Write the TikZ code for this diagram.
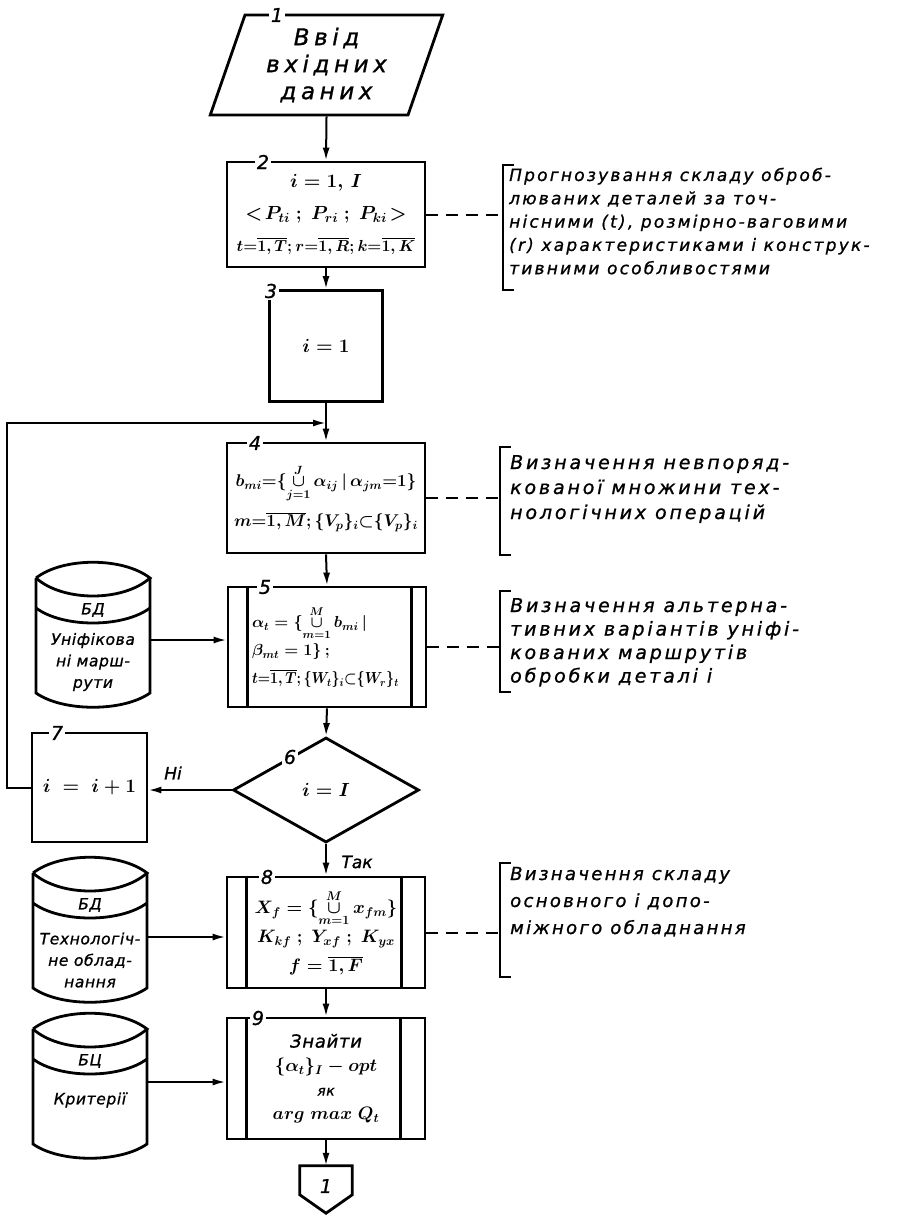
\RequirePackage{fix-cm}
\documentclass[tikz,border=0pt]{standalone}
\usepackage{amsmath}
\usepackage{graphicx}
\usepackage{fontspec}
\newfontfamily\drfN[FakeBold=1]{DejaVu Sans}
\newfontfamily\drfT[LetterSpace=20,FakeBold=1]{DejaVu Sans}
\newfontfamily\drfA[LetterSpace=13,FakeBold=1]{DejaVu Sans}
\newfontfamily\drfB[LetterSpace=15,FakeBold=1]{DejaVu Sans}
\newfontfamily\drfD[LetterSpace=4,FakeBold=1]{DejaVu Sans}
\usetikzlibrary{shapes.geometric,arrows.meta,calc}

% fonts used in the chart
\newcommand\mathsz{\fontsize{19}{32}\selectfont\boldmath}
\newcommand\numfont{\drfN\itshape\fontsize{19}{19}\selectfont}
\newcommand\titlefont{\drfT\itshape\fontsize{23}{27}\selectfont}
\newcommand\annAfont{\drfA\itshape\fontsize{17}{17}\selectfont}
\newcommand\annCfont{\drfA\itshape\fontsize{18}{18}\selectfont}
\newcommand\annBfont{\drfB\itshape\fontsize{19}{19}\selectfont}
\newcommand\dbfont{\drfD\itshape\fontsize{15.5}{21.5}\selectfont}
\newcommand\un{\mathop{\cup}\limits}

% database drum: name, x, y of top, header, body offset, arrow offset, body
\newcommand\drum[7]{%
  \begin{scope}[shift={(#2,#3)}]
    \draw[ol] (-57,16) .. controls (-30,-5) and (30,-5) .. (57,16)
                       .. controls (30,40) and (-30,40) .. (-57,16);
    \draw[ol] (-57,16) -- (-57,131) .. controls (-30,150) and (30,150) .. (57,131) -- (57,16);
    \draw[ol] (-57,46) .. controls (-30,66) and (30,66) .. (57,46);
    \node[dbtext] (#1h) at (0,48) {#4};
    \node[dbtext, align=center] (#1) at (0,#5) {#7};
    \coordinate (#1o) at (57,#6);
  \end{scope}}

% comment bracket: name, x, top, bottom, y of the link
\newcommand\brk[5]{%
  \draw[ol] (#2+11,#3) -- (#2,#3) -- (#2,#4) -- (#2+11,#4);
  \coordinate (#1) at (#2,#5);}

% vertical bars of a predefined-process box
\newcommand\sidebars[3]{%
  \draw[ol] ([xshift=#2]#1.north west) -- ([xshift=#2]#1.south west);
  \draw[ol] ([xshift=-#3]#1.north east) -- ([xshift=-#3]#1.south east);}

\begin{document}
\begin{tikzpicture}[x=1pt,y=-1pt,
  ol/.style={line width=2.8pt},
  box/.style={draw, line width=2.8pt, inner sep=1pt, align=center, font=\mathsz},
  arr/.style={line width=2pt, -{Latex[length=13pt,width=7pt]}},
  dsh/.style={line width=2pt, dash pattern=on 12pt off 8pt},
  num/.style={fill=white, inner sep=1.5pt, font=\numfont},
  lbl/.style={inner sep=1pt, font=\drfN\itshape\fontsize{17}{17}\selectfont},
  annA/.style={inner sep=0pt, anchor=base west, font=\annAfont},
  annB/.style={inner sep=0pt, anchor=base west, font=\annBfont},
  annC/.style={inner sep=0pt, anchor=base west, font=\annCfont},
  dbtext/.style={inner sep=0pt, font=\dbfont}]

\fill[white] (0,0) rectangle (903,1217);
\useasboundingbox (0,0) rectangle (903,1217);

% ---- main column ----
\node[draw, trapezium, trapezium left angle=71, trapezium right angle=109,
      trapezium stretches=true, minimum width=233pt, minimum height=100pt,
      line width=2.8pt, align=center, inner sep=0pt, font=\titlefont] (b1) at (326.5,65)
      {Ввід\\вхідних\\даних};

\node[box, minimum width=198pt, minimum height=105pt] (b2) at (326,214.5)
  {$i=1,\,I$\\ $<\!P_{ti}\ ;\ P_{ri}\ ;\ P_{ki}\!>$\\
   {\fontsize{16}{16}\selectfont$t{=}\overline{1,T};r{=}\overline{1,R};k{=}\overline{1,K}$}};

\node[box, minimum width=113pt, minimum height=111pt] (b3) at (326,346) {$i=1$};

\node[box, minimum width=198pt, minimum height=110pt, font=\fontsize{17}{40}\selectfont\boldmath] (b4) at (326,498)
  {$b_{mi}{=}\{\un_{j=1}^{J}\alpha_{ij}\,|\,\alpha_{jm}{=}1\}$\\
   $m{=}\overline{1,M};\{V_p\}_i{\subset}\{V_p\}_i$};

\node[box, minimum width=198pt, minimum height=120pt, align=left, text width=150pt,
      font=\fontsize{16}{28}\selectfont\boldmath] (b5) at (327,647)
  {$\alpha_t=\{\un_{m=1}^{M}b_{mi}\,|$\\
   $\beta_{mt}=1\}\,;$\\
   \scalebox{0.88}[1]{$t{=}\overline{1,T};\{W_t\}_i{\subset}\{W_r\}_t$}};
\sidebars{b5}{21pt}{16pt}

\node[draw, diamond, aspect=2, line width=2.8pt, minimum width=186pt, minimum height=105pt,
      inner sep=0pt, font=\mathsz] (b6) at (326,790) {$i=I$};

\node[box, minimum width=115pt, minimum height=109pt] (b7) at (89.5,787.5) {$i\;=\;i+1$};

\node[box, minimum width=198pt, minimum height=111pt, font=\fontsize{18}{29}\selectfont\boldmath] (b8) at (326,932.5)
  {$X_f=\{\un_{m=1}^{M}x_{fm}\}$\\
   $K_{kf}\ ;\ Y_{xf}\ ;\ K_{yx}$\\
   $f=\overline{1,F}$};
\sidebars{b8}{21pt}{25pt}

\node[box, minimum width=198pt, minimum height=121pt, font=\fontsize{18}{24}\selectfont\boldmath] (b9) at (326,1078.5)
  {{\drfD\itshape Знайти}\\
   $\{\alpha_t\}_I-opt$\\
   {\drfD\itshape\fontsize{14}{14}\selectfont як}\\
   $arg\;max\;Q_t$};
\sidebars{b9}{21pt}{26pt}

\node[inner sep=0pt, minimum width=52pt, minimum height=47pt] (c1) at (326,1189.5) {};
\draw[ol] (c1.south) -- ($(c1.north east)+(0,29)$) -- (c1.north east)
          -- (c1.north west) -- ($(c1.north west)+(0,29)$) -- cycle;
\node[font=\numfont, inner sep=0pt] (c1t) at (326,1186) {1};

% ---- block numbers ----
\node[num] (n1) at (277,15) {1};
\node[num] (n2) at (263,162) {2};
\node[num] (n3) at (271,291) {3};
\node[num] (n4) at (255,443) {4};
\node[num] (n5) at (265,587) {5};
\node[num] (n6) at (290,757) {6};
\node[num] (n7) at (57,733) {7};
\node[num] (n8) at (267,877) {8};
\node[num] (n9) at (258,1018) {9};

% ---- flow ----
\coordinate (j4) at (326,423);
\draw[arr] (b1.south) -- (b2.north);
\draw[arr] (b2.south) -- (b3.north);
\draw[arr] (b3.south) -- (b4.north);
\draw[arr] (b4.south) -- (b5.north);
\draw[arr] (b5.south) -- (b6.north);
\draw[arr] (b6.west) -- (b6.west -| b7.east);
\node[lbl] (no) at (173,773) {Ні};
\draw[arr] (b7.west) -- ++(-24,0) |- (j4);
\draw[arr] (b6.south) -- (b8.north);
\node[lbl] (yes) at (357,862) {Так};
\draw[arr] (b8.south) -- (b9.north);
\draw[arr] (b9.south) -- (c1.north);

% ---- databases ----
\drum{db1}{93}{562}{БД}{100}{78}{Уніфікова\\ні марш-\\рути}
\drum{db2}{90}{857}{БД}{103}{80}{Технологіч-\\не облад-\\нання}
\drum{db3}{90}{1013}{БЦ}{87}{69}{Критерії}
\draw[arr] (db1o) -- (db1o -| b5.west);
\draw[arr] (db2o) -- (db2o -| b8.west);
\draw[arr] (db3o) -- (db3o -| b9.west);

% ---- comments ----
\brk{k2}{503}{165}{290}{214.5}
\draw[dsh] (b2.east) -- (b2.east -| k2);
\foreach \t [count=\k] in {{Прогнозування складу оброб-},{люваних деталей за точ-},
    {нісними (t), розмірно-ваговими},{(r) характеристиками і конструк-},{тивними особливостями}}
  \node[annA] (a2-\k) at (509,{181+23.3*(\k-1)}) {\t};

\brk{k4}{500}{447}{555}{498}
\draw[dsh] (b4.east) -- (b4.east -| k4);
\foreach \t [count=\k] in {{Визначення невпоряд-},{кованої множини тех-},{нологічних операцій}}
  \node[annB] (a4-\k) at (510,{469+25*(\k-1)}) {\t};

\brk{k5}{500}{591}{692}{647}
\draw[dsh] (b5.east) -- (b5.east -| k5);
\foreach \t [count=\k] in {{Визначення альтерна-},{тивних варіантів уніфі-},{кованих маршрутів},{обробки деталі i}}
  \node[annB] (a5-\k) at (510,{612+23.5*(\k-1)}) {\t};

\brk{k8}{500}{863}{977}{932.5}
\draw[dsh] (b8.east) -- (b8.east -| k8);
\foreach \t [count=\k] in {{Визначення складу},{основного і допо-},{міжного обладнання}}
  \node[annC] (a8-\k) at (510,{880+27*(\k-1)}) {\t};
\end{tikzpicture}
\end{document}
